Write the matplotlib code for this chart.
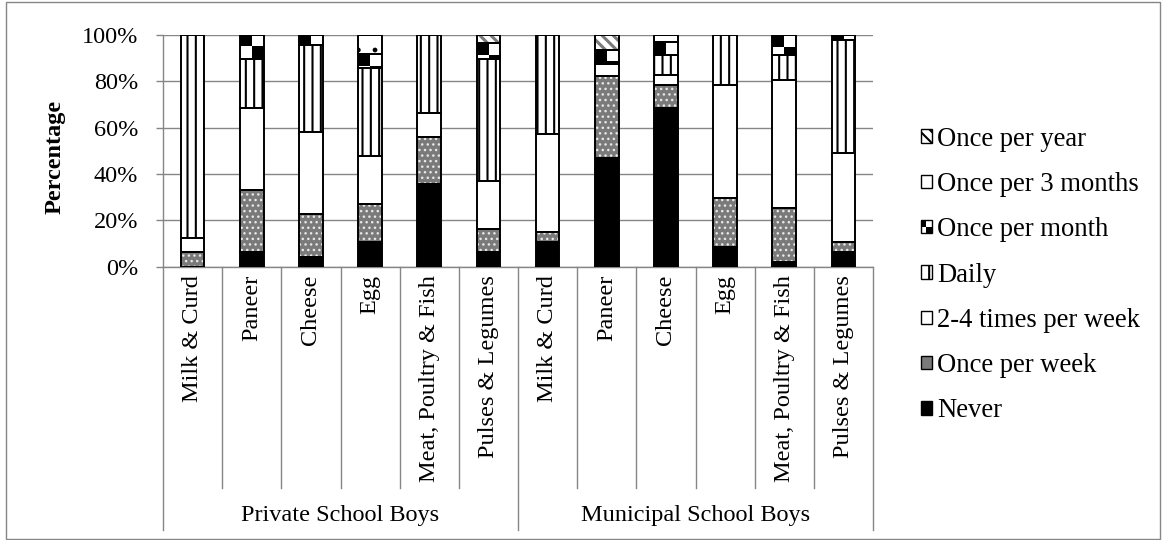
import numpy as np
import matplotlib
matplotlib.use("Agg")
import matplotlib.pyplot as plt
from matplotlib.patches import Rectangle, Patch
from matplotlib.lines import Line2D
from matplotlib.legend_handler import HandlerPatch

plt.rcParams["font.family"] = ["Liberation Serif", "DejaVu Serif"]
plt.rcParams["hatch.linewidth"] = 1.5

# ---- data -------------------------------------------------------------
groups = ["Private School Boys", "Municipal School Boys"]
foods = ["Milk & Curd", "Paneer", "Cheese", "Egg", "Meat, Poultry & Fish", "Pulses & Legumes"]
categories = foods + foods

frequencies = ["Never", "Once per week", "2-4 times per week", "Daily",
               "Once per month", "Once per 3 months", "Once per year"]

never        = [0.0, 6.5, 4.3, 10.5, 35.5, 6.5,    10.5, 47.1, 68.6, 8.6, 1.9, 6.5]
once_week    = [6.3, 26.6, 18.4, 16.4, 20.6, 9.8,  4.3, 35.3, 9.8, 21.2, 23.6, 4.0]
times_2_4    = [6.2, 35.5, 35.6, 21.0, 10.1, 20.8, 42.5, 4.9, 4.3, 48.6, 55.2, 38.4]
daily        = [87.5, 21.0, 37.4, 38.0, 33.8, 52.7, 42.7, 1.2, 8.7, 21.6, 10.8, 48.9]
once_month   = [0.0, 10.4, 4.3, 5.8, 0.0, 6.7,     0.0, 5.2, 5.6, 0.0, 8.5, 2.2]
once_3months = [0.0, 0.0, 0.0, 8.3, 0.0, 0.0,      0.0, 0.0, 3.0, 0.0, 0.0, 0.0]
once_year    = [0.0, 0.0, 0.0, 0.0, 0.0, 3.5,      0.0, 6.3, 0.0, 0.0, 0.0, 0.0]

y_ticks = [0, 20, 40, 60, 80, 100]
y_tick_labels = ["0%", "20%", "40%", "60%", "80%", "100%"]

series = [never, once_week, times_2_4, daily, once_month, once_3months, once_year]

# fill styles: facecolor, hatch, hatch colour, hatch width
styles = {
    "Never":              dict(face="black",   hatch=None,     hcol="black",   hlw=1.5),
    "Once per week":      dict(face="#7a7a7a", hatch="...",    hcol="#e8e8e8", hlw=1.0),
    "2-4 times per week": dict(face="white",   hatch=None,     hcol="black",   hlw=1.5),
    "Daily":              dict(face="white",   hatch="||",     hcol="black",   hlw=1.5),
    "Once per month":     dict(face="white",   hatch=None,     hcol="black",   hlw=1.5),
    "Once per 3 months":  dict(face="white",   hatch=".",      hcol="black",   hlw=1.0),
    "Once per year":      dict(face="white",   hatch="\\\\\\", hcol="#7a7a7a", hlw=2.2),
}

GRID = "#868686"
FS = 17.5
LEG_FS = 19.2
W, H = 1163, 540


def set_hatch_width(patch, lw):
    try:
        patch.set_hatch_linewidth(lw)
    except AttributeError:
        pass


fig = plt.figure(figsize=(W / 100, H / 100), dpi=100)
ax = fig.add_axes([163 / W, (H - 266.7) / H, 710 / W, 231.7 / H])

x = np.arange(len(categories))
bar_w = 0.4
bottom = np.zeros(len(categories))
checker_step = 5.0  # height of one checker square, in percent

for name, vals in zip(frequencies, series):
    vals = np.asarray(vals, dtype=float)
    st = styles[name]
    fills = ax.bar(x, vals, bar_w, bottom=bottom, color=st["face"], hatch=st["hatch"],
                   edgecolor=st["hcol"], linewidth=0, zorder=1)
    for p in fills.patches:
        set_hatch_width(p, st["hlw"])
    if name == "Once per month":
        for xi, b, h, rect in zip(x, bottom, vals, fills.patches):
            if h <= 0:
                continue
            top = b + h
            rows = int(np.ceil(h / checker_step))
            rr, cc = np.mgrid[0:rows, 0:2]
            board = np.where((rr + cc) % 2 == 0, 0.0, 1.0)
            im = ax.imshow(board, cmap="gray", vmin=0, vmax=1, interpolation="nearest",
                           extent=(xi - bar_w / 2, xi + bar_w / 2, top - rows * checker_step, top),
                           aspect="auto", zorder=2)
            im.set_clip_path(rect)
    ax.bar(x, vals, bar_w, bottom=bottom, fill=False, edgecolor="black",
           linewidth=1.4, zorder=3)
    bottom = bottom + vals

ax.set_xlim(-0.5, len(categories) - 0.5)
ax.set_ylim(0, 100)

# axes styling
for side in ("top", "right"):
    ax.spines[side].set_visible(False)
for side in ("left", "bottom"):
    ax.spines[side].set_color(GRID)
    ax.spines[side].set_linewidth(1.0)
ax.set_axisbelow(True)
ax.yaxis.grid(True, color=GRID, linewidth=1.0)
ax.set_yticks(y_ticks)
ax.set_yticklabels(y_tick_labels, fontsize=FS)
ax.tick_params(axis="y", length=5, color=GRID, width=1.0, pad=13)
ax.set_xticks(x)
ax.set_xticklabels(categories, rotation=90, fontsize=FS, va="top", ha="center")
ax.tick_params(axis="x", length=0, pad=6)

# multi-level category axis separators
xt = ax.get_xaxis_transform()
ax_h = 231.7
short_y = (266.7 - 488) / ax_h
long_y = (266.7 - 530) / ax_h
n_per = len(foods)
for k in range(len(categories) + 1):
    pos = k - 0.5
    end = long_y if k % n_per == 0 else short_y
    ax.add_line(Line2D([pos, pos], [0, end], transform=xt, color=GRID,
                       linewidth=1.0, clip_on=False))
for g, label in enumerate(groups):
    ax.text(g * n_per + (n_per - 1) / 2, (266.7 - 516) / ax_h, label, transform=xt,
            ha="center", va="center", fontsize=FS)

fig.text(55 / W, (H - 157) / H, "Percentage", rotation=90, ha="center", va="center",
         fontsize=FS, fontweight="bold")


# legend
class CheckerHandler(HandlerPatch):
    def create_artists(self, legend, orig_handle, xdescent, ydescent, width, height,
                       fontsize, trans):
        x0, y0 = -xdescent, -ydescent
        hw, hh = width / 2, height / 2
        arts = [
            Rectangle((x0, y0), width, height, facecolor="white", lw=0, transform=trans),
            Rectangle((x0, y0 + hh), hw, hh, facecolor="black", lw=0, transform=trans),
            Rectangle((x0 + hw, y0), hw, hh, facecolor="black", lw=0, transform=trans),
            Rectangle((x0, y0), width, height, fill=False, edgecolor="black", lw=1.0,
                      transform=trans),
        ]
        return arts


handles = []
handler_map = {}
for name in frequencies[::-1]:
    st = styles[name]
    hp = Patch(facecolor=st["face"], edgecolor="black", linewidth=1.0,
               hatch=st["hatch"] if name not in ("Once per week", "Once per 3 months") else None,
               label=name)
    if name == "Once per month":
        handler_map[hp] = CheckerHandler()
    handles.append(hp)

fig.legend(handles=handles, labels=frequencies[::-1], handler_map=handler_map,
           loc="center left", bbox_to_anchor=(921 / W, (H - 275) / H),
           bbox_transform=fig.transFigure, frameon=False, fontsize=LEG_FS,
           handlelength=0.4, handleheight=0.4, handletextpad=0.2,
           labelspacing=0.76, borderpad=0, borderaxespad=0)

# chart frame
fig.patches.append(Rectangle((6 / W, 1 / H), (1160 - 6) / W, (538 - 1) / H, fill=False,
                             edgecolor=GRID, linewidth=1.0, transform=fig.transFigure,
                             figure=fig))

fig.savefig("out.png", dpi=100)
